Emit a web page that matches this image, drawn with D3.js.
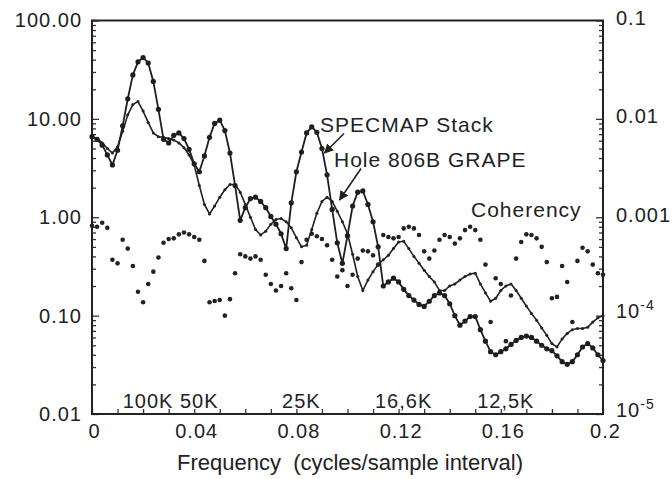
<!DOCTYPE html>
<html>
<head>
<meta charset="utf-8">
<title>Spectra</title>
<script src="https://cdnjs.cloudflare.com/ajax/libs/d3/7.8.5/d3.min.js"></script>
<style>
  body { margin: 0; background: #fff; }
  text { font-family: "Liberation Sans", Arial, Helvetica, sans-serif; fill: #222; }
</style>
</head>
<body>
<svg id="chart" width="672" height="479"></svg>
<script>
// frequency grid step (cycles/sample interval)
var freqStep = 0.002;

// SPECMAP stack power spectrum (big dots)
var specmap = [6.6, 6.2, 5.4, 4.3, 3.4, 4.8, 8.5, 16, 28, 38,
  42, 37, 24, 12.5, 6.2, 5.7, 6.8, 7.2, 6.3, 4.9,
  3.5, 2.9, 4.2, 6.5, 9.0, 9.7, 7.6, 4.5, 2.1, 0.93,
  1.25, 1.55, 1.6, 1.45, 1.25, 1.02, 0.85, 0.68, 0.48, 1.4,
  2.9, 4.6, 7.2, 8.3, 7.3, 5.0, 2.7, 1.2, 0.55, 0.34,
  0.65, 1.3, 1.8, 1.85, 1.35, 0.9, 0.5, 0.2, 0.22, 0.24,
  0.22, 0.185, 0.16, 0.144, 0.13, 0.124, 0.14, 0.16, 0.17, 0.16,
  0.132, 0.1, 0.08, 0.088, 0.098, 0.098, 0.072, 0.055, 0.043, 0.04,
  0.043, 0.046, 0.051, 0.056, 0.06, 0.062, 0.06, 0.055, 0.05, 0.046,
  0.044, 0.039, 0.034, 0.032, 0.034, 0.04, 0.048, 0.052, 0.047, 0.04, 0.035];

// Hole 806B GRAPE power spectrum (small dots)
var grape = [6.6, 6.3, 5.7, 5.0, 4.5, 5.2, 7.5, 11, 14, 15,
  12, 9.2, 7.2, 6.6, 6.5, 6.3, 6.1, 5.7, 5.1, 4.3,
  3.4, 2.1, 1.35, 1.08, 1.3, 1.6, 1.9, 2.15, 2.15, 1.8,
  1.35, 1.0, 0.75, 0.66, 0.72, 0.85, 0.95, 0.97, 0.9, 0.78,
  0.62, 0.5, 0.52, 0.75, 1.1, 1.45, 1.6, 1.45, 1.15, 0.9,
  0.68, 0.42, 0.25, 0.18, 0.23, 0.28, 0.33, 0.37, 0.41, 0.48,
  0.56, 0.57, 0.48, 0.40, 0.34, 0.29, 0.25, 0.22, 0.18, 0.18,
  0.2, 0.21, 0.23, 0.25, 0.265, 0.27, 0.21, 0.17, 0.14, 0.15,
  0.18, 0.2, 0.21, 0.18, 0.15, 0.125, 0.105, 0.09, 0.075, 0.063,
  0.052, 0.048, 0.058, 0.066, 0.072, 0.074, 0.074, 0.076, 0.086, 0.095, 0.10];

// coherency (dots only)
var coherency = [0.82, 0.80, 0.88, 0.78, 0.37, 0.34, 0.59, 0.48, 0.32, 0.175,
  0.137, 0.21, 0.28, 0.39, 0.55, 0.60, 0.61, 0.67, 0.70, 0.67,
  0.63, 0.59, 0.36, 0.137, 0.141, 0.144, 0.10, 0.147, 0.27, 0.42,
  0.40, 0.38, 0.40, 0.37, 0.26, 0.21, 0.18, 0.20, 0.27, 0.19,
  0.144, 0.35, 0.59, 0.68, 0.64, 0.60, 0.52, 0.37, 0.25, 0.29,
  0.20, 0.26, 0.38, 0.46, 0.45, 0.41, 0.33, 0.66, 0.63, 0.61,
  0.63, 0.77, 0.80, 0.77, 0.66, 0.45, 0.38, 0.46, 0.59, 0.66,
  0.63, 0.54, 0.61, 0.74, 0.80, 0.74, 0.59, 0.33, 0.086, 0.24,
  0.21, 0.055, 0.16, 0.38, 0.56, 0.67, 0.66, 0.61, 0.50, 0.35,
  0.15, 0.155, 0.32, 0.22, 0.086, 0.36, 0.49, 0.45, 0.33, 0.27, 0.26];

// tick values / labels
var xMajorTicks = [0, 0.04, 0.08, 0.12, 0.16, 0.2];
var xTickLabels = ["0", "0.04", "0.08", "0.12", "0.16", "0.2"];
var leftTicks = [0.01, 0.1, 1, 10, 100];
var leftTickLabels = ["0.01", "0.10", "1.00", "10.00", "100.00"];
var rightTicks = [1e-5, 1e-4, 1e-3, 0.01, 0.1];
var rightTickBase = ["10", "10", "0.001", "0.01", "0.1"];
var rightTickExp = ["-5", "-4", "", "", ""];
var periodLabels = ["100K", "50K", "25K", "16,6K", "12,5K"];
var periodFreqs = [0.02, 0.04, 0.08, 0.12, 0.16];

var svg = d3.select("#chart"),
    margin = {top: 20.5, right: 69, bottom: 65, left: 92},
    width = +svg.attr("width") - margin.left - margin.right,
    height = +svg.attr("height") - margin.top - margin.bottom;

var x = d3.scaleLinear().domain([0, 0.2]).range([0, width]),
    y = d3.scaleLog().domain([0.01, 100]).range([height, 0]),
    yR = d3.scaleLog().domain([1e-5, 0.1]).range([height, 0]);

var g = svg.append("g")
    .attr("transform", "translate(" + margin.left + "," + margin.top + ")");

function toPoints(arr) {
  return arr.map(function(v, i) { return {f: i * freqStep, v: v}; });
}

// minor ticks (log) on left / right, all pointing inward
var minorLeft = y.ticks().filter(function(d) { return leftTicks.indexOf(d) < 0; });
var minorRight = yR.ticks().filter(function(d) { return rightTicks.indexOf(d) < 0; });

g.append("g").attr("class", "axis")
  .call(d3.axisLeft(y).tickValues(minorLeft).tickSize(-4).tickFormat(""));
g.append("g").attr("class", "axis axis--left")
  .call(d3.axisLeft(y).tickValues(leftTicks).tickSize(-7).tickPadding(10)
    .tickFormat(function(d, i) { return leftTickLabels[i]; }));

g.append("g").attr("class", "axis")
  .attr("transform", "translate(" + width + ",0)")
  .call(d3.axisRight(yR).tickValues(minorRight).tickSize(-4).tickFormat(""));
var rAxis = g.append("g").attr("class", "axis axis--right")
  .attr("transform", "translate(" + width + ",0)")
  .call(d3.axisRight(yR).tickValues(rightTicks).tickSize(-7).tickPadding(13).tickFormat(""));
rAxis.selectAll(".tick text").each(function(d, i) {
  var t = d3.select(this);
  if (rightTickExp[i]) {
    t.attr("dy", "0.1em");
    t.append("tspan").text(rightTickBase[i]);
    t.append("tspan").text(rightTickExp[i]).attr("dy", "-0.55em").style("font-size", "14px");
  } else {
    t.attr("dy", "0.2em").text(rightTickBase[i]);
  }
});

// bottom axis: ticks every 0.01, labels every 0.04
g.append("g").attr("class", "axis")
  .attr("transform", "translate(0," + height + ")")
  .call(d3.axisBottom(x).ticks(20).tickSize(-5).tickFormat(""));
g.append("g").attr("class", "axis axis--bottom")
  .attr("transform", "translate(0," + height + ")")
  .call(d3.axisBottom(x).tickValues(xMajorTicks).tickSize(0).tickPadding(10)
    .tickFormat(function(d, i) { return xTickLabels[i]; }));

svg.selectAll(".axis .domain").remove();
svg.selectAll(".axis line").attr("stroke", "#333").attr("stroke-width", 1.3);
svg.selectAll(".axis text")
  .style("font-size", "20px").style("letter-spacing", "1px")
  .attr("fill", "#222");
svg.selectAll(".axis--bottom text").attr("dx", "2");

// frame
g.append("rect")
  .attr("width", width).attr("height", height)
  .attr("fill", "none").attr("stroke", "#222").attr("stroke-width", 2);

// period labels along the bottom
g.selectAll(".period").data(periodLabels).enter().append("text")
  .attr("class", "period")
  .attr("x", function(d, i) { return x(periodFreqs[i]) + 5; })
  .attr("y", height - 6)
  .attr("text-anchor", "middle")
  .style("font-size", "20px").style("letter-spacing", "1px")
  .text(function(d) { return d; });

var line = d3.line()
  .x(function(d) { return x(d.f); })
  .y(function(d) { return y(d.v); });

// GRAPE spectrum
var grapePts = toPoints(grape);
g.append("path").datum(grapePts)
  .attr("fill", "none").attr("stroke", "#222").attr("stroke-width", 1.6)
  .attr("d", line);
g.selectAll(".gdot").data(grapePts).enter().append("circle")
  .attr("class", "gdot")
  .attr("cx", function(d) { return x(d.f); })
  .attr("cy", function(d) { return y(d.v); })
  .attr("r", 1.5).attr("fill", "#222");

// SPECMAP spectrum
var specPts = toPoints(specmap);
g.append("path").datum(specPts)
  .attr("fill", "none").attr("stroke", "#1e1e1e").attr("stroke-width", 1.8)
  .attr("d", line);
g.selectAll(".sdot").data(specPts).enter().append("circle")
  .attr("class", "sdot")
  .attr("cx", function(d) { return x(d.f); })
  .attr("cy", function(d) { return y(d.v); })
  .attr("r", 2.6).attr("fill", "#1e1e1e");

// coherency dots
g.selectAll(".cdot").data(toPoints(coherency)).enter().append("circle")
  .attr("class", "cdot")
  .attr("cx", function(d) { return x(d.f); })
  .attr("cy", function(d) { return y(d.v); })
  .attr("r", 2.3).attr("fill", "#222");

// annotations
var defs = svg.append("defs");
defs.append("marker").attr("id", "arrow")
  .attr("viewBox", "0 0 10 10").attr("refX", 9).attr("refY", 5)
  .attr("markerWidth", 6).attr("markerHeight", 6).attr("orient", "auto")
  .append("path").attr("d", "M0,0 L10,5 L0,10 z").attr("fill", "#222");

function note(txt, tx, ty) {
  g.append("text").attr("x", tx).attr("y", ty)
    .style("font-size", "21px").style("letter-spacing", "1px")
    .text(txt);
}
note("SPECMAP Stack", 228, 111);
note("Hole 806B GRAPE", 242, 146);
note("Coherency", 379, 196);

g.append("line")
  .attr("x1", 252).attr("y1", 113)
  .attr("x2", x(0.091)).attr("y2", y(4.5))
  .attr("stroke", "#222").attr("stroke-width", 1.6)
  .attr("marker-end", "url(#arrow)");
g.append("line")
  .attr("x1", 269).attr("y1", 148)
  .attr("x2", x(0.0969)).attr("y2", y(1.5))
  .attr("stroke", "#222").attr("stroke-width", 1.6)
  .attr("marker-end", "url(#arrow)");

// x axis title
svg.append("text")
  .attr("x", 350).attr("y", 470)
  .attr("text-anchor", "middle")
  .style("font-size", "22px")
  .style("white-space", "pre")
  .text("Frequency  (cycles/sample interval)");
</script>
</body>
</html>
